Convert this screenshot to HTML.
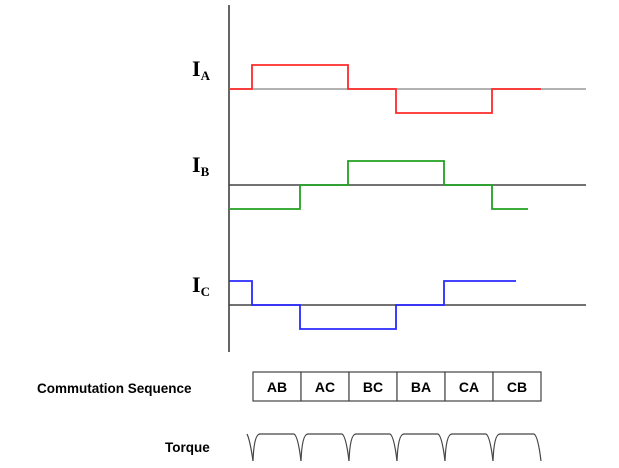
<!DOCTYPE html>
<html><head><meta charset="utf-8"><style>
body{margin:0;background:#fff}
svg{display:block}
</style></head><body>
<svg width="619" height="468" viewBox="0 0 619 468" id="c">
<line x1="229" y1="5" x2="229" y2="352" stroke="#333" stroke-width="1.5"/>
<g id="g"></g>
<text x="37" y="393" font-family="Liberation Sans, sans-serif" font-weight="bold" font-size="13.5">Commutation Sequence</text>
<text x="165" y="452" font-family="Liberation Sans, sans-serif" font-weight="bold" font-size="13.5">Torque</text>
<path d="M247,434 Q250,440 253,461" fill="none" stroke="#444" stroke-width="1.2"/>
</svg>
<script>
const phases=['A','B','C'];
const seqLabels=['AB','AC','BC','BA','CA','CB'];
const currA=[0,1,1,0,-1,-1,0];
const currB=[-1,-1,0,1,1,0,-1];
const currC=[1,0,-1,-1,0,1,1];
const series=[currA,currB,currC];
const colors=['#ff2a2a','#22a022','#2a2aff'];
const baseY=[89,185,305];
const endX=[541,528,516];
const ns='http://www.w3.org/2000/svg';
const g=document.getElementById('g');
const x0=229,step=48,x1=252,amp=24;
const sx=i=>i===0?x0:x1+(i-1)*step;
function mk(t,a){const e=document.createElementNS(ns,t);for(const k in a)e.setAttribute(k,a[k]);g.appendChild(e);return e;}
phases.forEach((p,k)=>{
 const b=baseY[k];
 const bl=mk('line',{x1:229,y1:b,x2:586,y2:b,stroke:k===0?'#999':'#444','stroke-width':1.5});
 
 
 const v=series[k];let d='';
 for(let i=0;i<v.length;i++){
  const xs=sx(i),xe=i===v.length-1?endX[k]:sx(i+1),y=b-v[i]*amp;
  d+=(i===0?'M':'L')+xs+','+y+'L'+xe+','+y;
 }
 const pa=mk('path',{d:d,fill:'none',stroke:colors[k],'stroke-width':1.8});
 
 
 const t=mk('text',{x:192,y:b-13,'font-family':'Liberation Serif, serif','font-weight':'bold','font-size':22});
 
 
 t.textContent='I';
 const s=document.createElementNS(ns,'tspan');s.setAttribute('font-size',13);s.setAttribute('dy',4);s.textContent=p;t.appendChild(s);
});
seqLabels.forEach((l,i)=>{
 const r=mk('rect',{x:253+i*48,y:372,width:48,height:29,fill:'#fff',stroke:'#444','stroke-width':1.2});
 
 
 const t=mk('text',{x:277+i*48,y:392,'text-anchor':'middle','font-family':'Liberation Sans, sans-serif','font-weight':'bold','font-size':14});
 
 
 t.textContent=l;
 const bx=253+i*48;
 const tq=mk('path',{d:`M${bx},461 Q${bx+1},434 ${bx+7},434 L${bx+41},434 Q${bx+45},436 ${bx+48},461`,fill:'none',stroke:'#444','stroke-width':1.2});
 
 
});
</script>
</body></html>
